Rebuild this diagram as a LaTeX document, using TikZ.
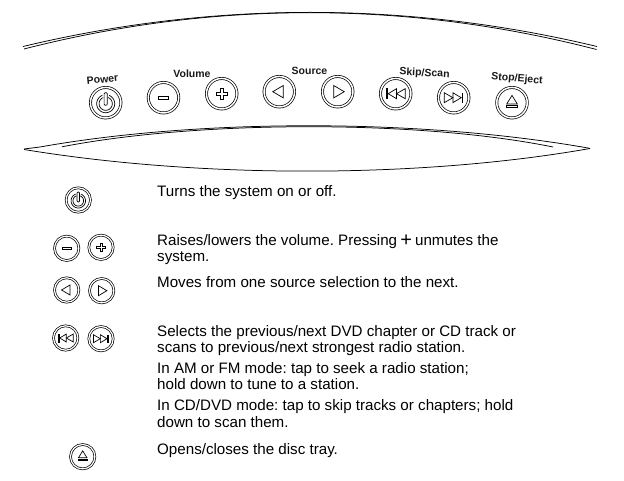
\documentclass[tikz,border=0pt]{standalone}
\usepackage{fontspec}
\setmainfont{Liberation Sans}
\tikzset{
 ln/.style={draw=black,line width=0.75pt,line join=round},
 bodytext/.style={anchor=north west,inner sep=0pt,align=left,font=\fontsize{15.15}{16.2}\selectfont\frenchspacing,text=black},
 btnlabel/.style={inner sep=0pt,font=\bfseries\fontsize{10.5}{11}\selectfont,text=black!90},
}
\newcommand{\btn}[5]{% name,x,y,scale,symbol
 \node[circle,draw,line width=0.7pt,minimum size=#4*30.5pt,inner sep=0pt,double=white,double distance=#4*1.5pt] (#1) at (#2,#3) {};
 \begin{scope}[shift={(#1.center)},scale=#4,line width=0.7pt,line join=miter]
 #5
 \end{scope}}
\newcommand{\sympower}{%
 \draw[domain=112:428,samples=50,smooth,variable=\t] plot ({9*cos(\t)},{-9*sin(\t)+1});
 \draw[domain=112:428,samples=50,smooth,variable=\t] plot ({6.6*cos(\t)},{-6.6*sin(\t)+1});
 \draw[fill=white,rounded corners=1pt] (-1.6,-10) rectangle (1.6,2.5);}
\newcommand{\symminus}{\draw (-5.3,-1.7) rectangle (5.3,1.7);}
\newcommand{\symplus}{\draw (-1.4,-5.3)--(1.4,-5.3)--(1.4,-1.4)--(5.3,-1.4)--(5.3,1.4)--(1.4,1.4)--(1.4,5.3)--(-1.4,5.3)--(-1.4,1.4)--(-5.3,1.4)--(-5.3,-1.4)--(-1.4,-1.4)--cycle;}
\newcommand{\symleft}{\draw (-6.5,0)--(4,-6.2)--(4,6.2)--cycle;}
\newcommand{\symright}{\draw (6.5,0)--(-4,-6.2)--(-4,6.2)--cycle;}
\newcommand{\symprev}{\draw (-9.5,-5) rectangle (-8,5);\draw (-7.5,0)--(0.8,-5)--(0.8,5)--cycle;\draw (0.8,0)--(9.5,-5)--(9.5,5)--cycle;}
\newcommand{\symnext}{\fill (9.5,-5) rectangle (7.8,5);\draw (7.5,0)--(-0.8,-5)--(-0.8,5)--cycle;\draw (-0.8,0)--(-9.5,-5)--(-9.5,5)--cycle;}
\newcommand{\symeject}{\draw (0,-7.3)--(5.3,1.3)--(-5.3,1.3)--cycle;\draw (-5.3,2.8) rectangle (5.3,4.8);}
\newcommand{\bigplus}{\makebox[9.5pt][c]{\raisebox{-1.2pt}{\fontsize{20}{16.2}\selectfont +}}}
\begin{document}
\begin{tikzpicture}[x=1pt,y=-1pt]
\useasboundingbox (0,0) rectangle (624,481);
% top band
\draw[ln] (23,46.5) .. controls (213,1) and (407,1) .. (597,46.5);
\draw[ln] (24,49) .. controls (213,0.5) and (407,0.5) .. (596.5,49.5);
% lower lens
\draw[ln] (24,149) -- (40,147) .. controls (200,118.5) and (420,118.5) .. (588,148) -- (590,148.5);
\draw[ln] (62,146.8) .. controls (200,120) and (420,120) .. (553,147);
\draw[ln] (24,149.5) .. controls (200,178.5) and (420,178.5) .. (590,148.5);
% main buttons
\btn{pw}{105.7}{102.7}{1}{\sympower}
\btn{vm}{163.5}{97.7}{1}{\symminus}
\btn{vp}{221.7}{93.7}{1}{\symplus}
\btn{sl}{279.3}{91.7}{1}{\symleft}
\btn{sr}{337.7}{91.7}{1}{\symright}
\btn{sp}{395.7}{93.7}{1}{\symprev}
\btn{sn}{453.7}{97.7}{1}{\symnext}
\btn{ej}{512}{102.7}{1}{\symeject}
% labels
\node[btnlabel,rotate=6] (lpw) at (102.5,79.5) {Power};
\node[btnlabel] (lvo) at (192,73.5) {Volume};
\node[btnlabel] (lso) at (309.5,71) {Source};
\node[btnlabel,rotate=-3] (lsk) at (424.5,73.5) {Skip/Scan};
\node[btnlabel,rotate=-5] (lst) at (517,79) {Stop/Eject};
% legend icons
\btn{ipw}{78.3}{200}{0.8}{\sympower}
\btn{ivm}{66.7}{248.3}{0.8}{\symminus}
\btn{ivp}{101}{247.3}{0.8}{\symplus}
\btn{isl}{66.7}{290}{0.8}{\symleft}
\btn{isr}{101.7}{290.7}{0.8}{\symright}
\btn{isp}{65.7}{338}{0.8}{\symprev}
\btn{isn}{101}{338.7}{0.8}{\symnext}
\btn{iej}{82.7}{456.7}{0.8}{\symeject}
% text
\node[bodytext] (t1) at (157,185.5) {Turns the system on or off.};
\node[bodytext] (t2) at (157,234.2) {Raises/lowers the volume. Pressing \bigplus{} unmutes the\\system.};
\node[bodytext] (t3) at (157,276.5) {Moves from one source selection to the next.};
\node[bodytext] (t4) at (157,325) {Selects the previous/next DVD chapter or CD track or\\scans to previous/next strongest radio station.};
\node[bodytext] (t5) at (157,362) {In AM or FM mode: tap to seek a radio station;\\hold down to tune to a station.};
\node[bodytext] (t6) at (157,399.7) {In CD/DVD mode: tap to skip tracks or chapters; hold\\down to scan them.};
\node[bodytext] (t7) at (157,443) {Opens/closes the disc tray.};
\end{tikzpicture}
\end{document}
